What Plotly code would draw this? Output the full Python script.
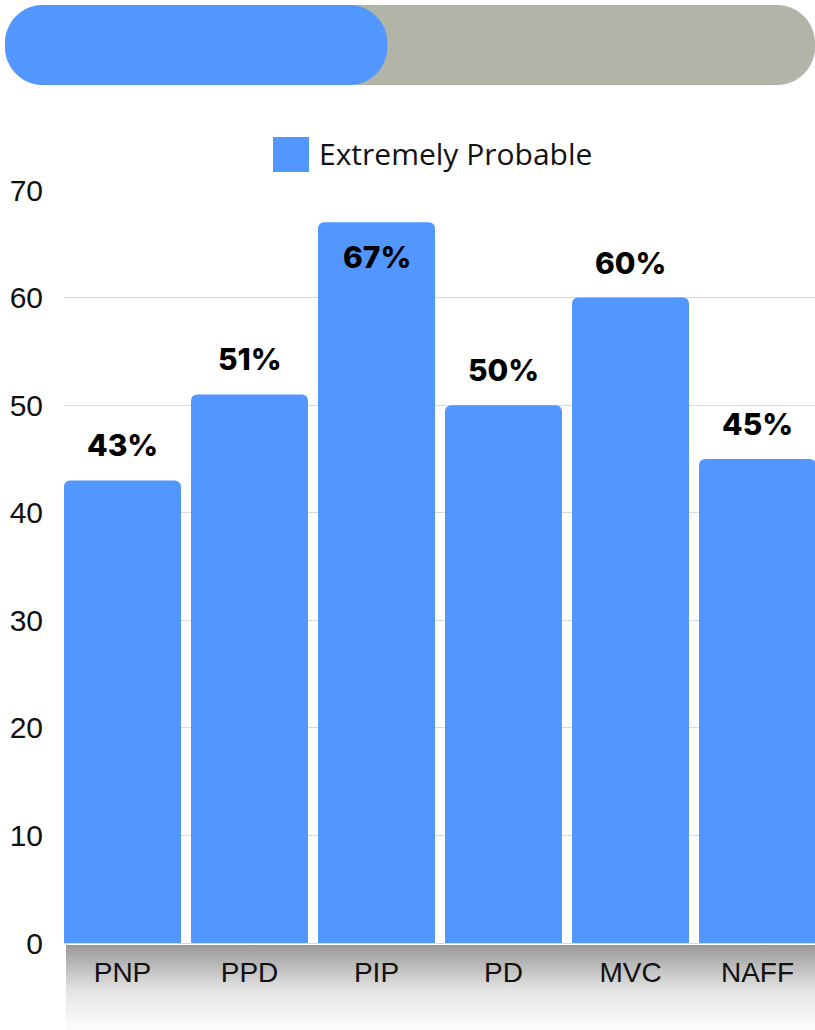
import base64
import plotly.graph_objects as go

# ---------------- data ----------------
categories = ["PNP", "PPD", "PIP", "PD", "MVC", "NAFF"]
values = [43, 51, 67, 50, 60, 45]
label_inside = [False, False, True, False, False, False]
series_name = "Extremely Probable"
y_ticks = [0, 10, 20, 30, 40, 50, 60, 70]
progress_fraction = 0.472  # top progress indicator

# ---------------- styling ----------------
W, H = 815, 1030
L, R, T, B = 64, 0, 190, 87
BLUE = "#5296ff"
GRAY = "#b2b4a8"
pw, ph = W - L - R, H - T - B


def px_x(x):
    return (x - L) / pw


def px_y(y):
    return (H - B - y) / ph


def rounded_rect_path(x0, y0, x1, y1, r):
    k = 0.5523 * r
    pts = []
    pts.append(("M", [(x0 + r, y0)]))
    pts.append(("L", [(x1 - r, y0)]))
    pts.append(("C", [(x1 - r + k, y0), (x1, y0 + r - k), (x1, y0 + r)]))
    pts.append(("L", [(x1, y1 - r)]))
    pts.append(("C", [(x1, y1 - r + k), (x1 - r + k, y1), (x1 - r, y1)]))
    pts.append(("L", [(x0 + r, y1)]))
    pts.append(("C", [(x0 + r - k, y1), (x0, y1 - r + k), (x0, y1 - r)]))
    pts.append(("L", [(x0, y0 + r)]))
    pts.append(("C", [(x0, y0 + r - k), (x0 + r - k, y0), (x0 + r, y0)]))
    s = ""
    for cmd, ps in pts:
        s += cmd + " " + " ".join(f"{px_x(a):.5f},{px_y(b):.5f}" for a, b in ps) + " "
    return s + "Z"


fig = go.Figure()
fig.add_trace(go.Bar(
    x=categories, y=values, name=series_name,
    marker=dict(color=BLUE, cornerradius=6, line=dict(width=0)),
    showlegend=False, hoverinfo="x+y",
))

# value labels
for c, v, inside in zip(categories, values, label_inside):
    fig.add_annotation(
        x=c, y=v, text=f"{v}%", showarrow=False,
        yanchor="top" if inside else "bottom",
        yshift=-15 if inside else 15,
        font=dict(family="Inter", size=30, color="#000000", weight=800),
    )

shapes = []
# progress bar (background + fill)
bar_x0, bar_x1, bar_y0, bar_y1 = 5, 815, 5, 85
shapes.append(dict(type="path", xref="paper", yref="paper",
                   path=rounded_rect_path(bar_x0, bar_y0, bar_x1, bar_y1, 38),
                   fillcolor=GRAY, line=dict(width=0), layer="above"))
fill_x1 = bar_x0 + progress_fraction * (bar_x1 - bar_x0)
shapes.append(dict(type="path", xref="paper", yref="paper",
                   path=rounded_rect_path(bar_x0, bar_y0, fill_x1, bar_y1, 38),
                   fillcolor=BLUE, line=dict(width=0), layer="above"))
# legend square
shapes.append(dict(type="rect", xref="paper", yref="paper",
                   x0=px_x(273), x1=px_x(309), y0=px_y(172), y1=px_y(137),
                   fillcolor=BLUE, line=dict(width=0)))

fig.add_annotation(xref="paper", yref="paper", x=px_x(317), y=px_y(153),
                   xanchor="left", yanchor="middle", showarrow=False,
                   text=series_name,
                   font=dict(family="Open Sans", size=30, color="#111111"))

# gradient band below axis
svg = ('<svg xmlns="http://www.w3.org/2000/svg" width="100" height="100" preserveAspectRatio="none">'
       '<defs><linearGradient id="g" x1="0" y1="0" x2="0" y2="1">'
       '<stop offset="0" stop-color="#999999"/><stop offset="0.55" stop-color="#e6e6e6"/>'
       '<stop offset="1" stop-color="#fdfdfd"/></linearGradient></defs>'
       '<rect width="100" height="100" fill="url(#g)"/></svg>')
src = "data:image/svg+xml;base64," + base64.b64encode(svg.encode()).decode()
fig.add_layout_image(dict(source=src, xref="paper", yref="paper",
                          x=px_x(66), y=px_y(945), sizex=px_x(815) - px_x(66),
                          sizey=px_y(945) - px_y(1030), xanchor="left", yanchor="top",
                          sizing="stretch", layer="below"))

x_start = -58.5 / 127
fig.update_layout(
    width=W, height=H,
    margin=dict(l=L, r=R, t=T, b=B, pad=0),
    paper_bgcolor="white", plot_bgcolor="rgba(0,0,0,0)",
    bargap=10 / 127,
    shapes=shapes,
    showlegend=False,
    xaxis=dict(range=[x_start, x_start + pw / 127], showgrid=False, showline=False,
               zeroline=False, ticks="", ticklabelstandoff=10,
               tickfont=dict(family="Liberation Sans, Arial", size=28, color="#111111"),
               fixedrange=True),
    yaxis=dict(range=[0, 70], tickvals=y_ticks, showgrid=True, gridcolor="#d9d9d9",
               gridwidth=1, zeroline=True, zerolinecolor="#d9d9d9", zerolinewidth=1,
               showline=False, ticks="", ticklabelstandoff=20,
               tickfont=dict(family="Liberation Sans, Arial", size=30, color="#111111"),
               fixedrange=True),
)

fig.write_html("out.html")
